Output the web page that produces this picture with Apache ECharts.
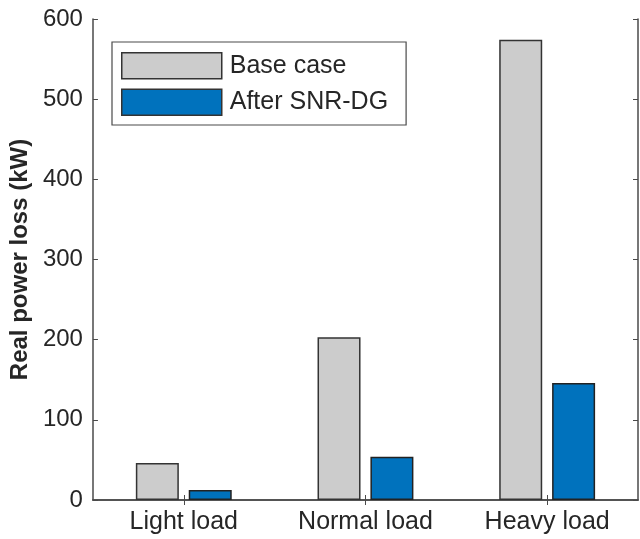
<!DOCTYPE html>
<html>
<head>
<meta charset="utf-8">
<script src="https://cdn.jsdelivr.net/npm/echarts@6/dist/echarts.min.js"></script>
<style>
  html, body { margin: 0; padding: 0; background: #fff; }
  #chart { width: 640px; height: 539px; }
</style>
</head>
<body>
<div id="chart"></div>
<script>
// ========== Data ==========
const categories = ['Light load', 'Normal load', 'Heavy load'];
const baseCase = [46, 203, 574];
const afterDG = [12.5, 54, 146];
const yTicks = [0, 100, 200, 300, 400, 500, 600];

const FONT = '"Liberation Sans", Arial, Helvetica, sans-serif';
const TEXT = '#262626';
const AXIS = '#4a4a4a';

// ========== Chart ==========
var myChart = echarts.init(document.getElementById('chart'));

// shared style for the "box" axes (top / right) - ticks only, no labels
const boxLine = { show: true, lineStyle: { color: AXIS, width: 1.5 } };

var option = {
    animation: false,
    textStyle: { fontFamily: FONT, color: TEXT },
    grid: { left: 92, right: 2, top: 19, bottom: 39, containLabel: false },
    legend: {
        orient: 'vertical',
        left: 112,
        top: 42,
        padding: [10, 18, 9, 9],
        itemWidth: 100,
        itemHeight: 26,
        itemGap: 9,
        borderColor: AXIS,
        borderWidth: 1.2,
        icon: 'rect',
        itemStyle: { borderColor: '#333', borderWidth: 1.5 },
        textStyle: { fontFamily: FONT, fontSize: 25, color: TEXT, padding: [0, 0, 0, 3] },
        data: ['Base case', 'After SNR-DG']
    },
    xAxis: [
        {
            type: 'category',
            data: categories,
            boundaryGap: true,
            axisLine: boxLine,
            axisTick: { show: true, inside: true, alignWithLabel: true, length: 5, lineStyle: { color: AXIS, width: 1 } },
            axisLabel: { fontFamily: FONT, fontSize: 25, color: TEXT, margin: 10 },
            splitLine: { show: false }
        },
        {
            type: 'category',
            position: 'top',
            data: categories,
            boundaryGap: true,
            axisLine: boxLine,
            axisTick: { show: true, inside: true, alignWithLabel: true, length: 5, lineStyle: { color: AXIS, width: 1 } },
            axisLabel: { show: false },
            splitLine: { show: false }
        }
    ],
    yAxis: [
        {
            type: 'value',
            min: 0,
            max: 600,
            interval: 100,
            name: 'Real power loss (kW)',
            nameLocation: 'middle',
            nameGap: 54,
            nameTextStyle: { fontFamily: FONT, fontSize: 24, fontWeight: 'bold', color: TEXT },
            axisLine: boxLine,
            axisTick: { show: true, inside: true, length: 5, lineStyle: { color: AXIS, width: 1 } },
            axisLabel: {
                fontFamily: FONT, fontSize: 24, color: TEXT, margin: 10,
                formatter: v => yTicks.includes(v) ? String(v) : ''
            },
            splitLine: { show: false }
        },
        {
            type: 'value',
            position: 'right',
            min: 0,
            max: 600,
            interval: 100,
            axisLine: boxLine,
            axisTick: { show: true, inside: true, length: 5, lineStyle: { color: AXIS, width: 1 } },
            axisLabel: { show: false },
            splitLine: { show: false }
        }
    ],
    series: [
        {
            name: 'Base case',
            type: 'bar',
            data: baseCase,
            barWidth: 43,
            barGap: '23%',
            itemStyle: { color: '#cccccc', borderColor: '#333', borderWidth: 1.5 }
        },
        {
            name: 'After SNR-DG',
            type: 'bar',
            data: afterDG,
            barWidth: 43,
            itemStyle: { color: '#0072bd', borderColor: '#222', borderWidth: 1.5 }
        }
    ]
};
option && myChart.setOption(option);
</script>
</body>
</html>
